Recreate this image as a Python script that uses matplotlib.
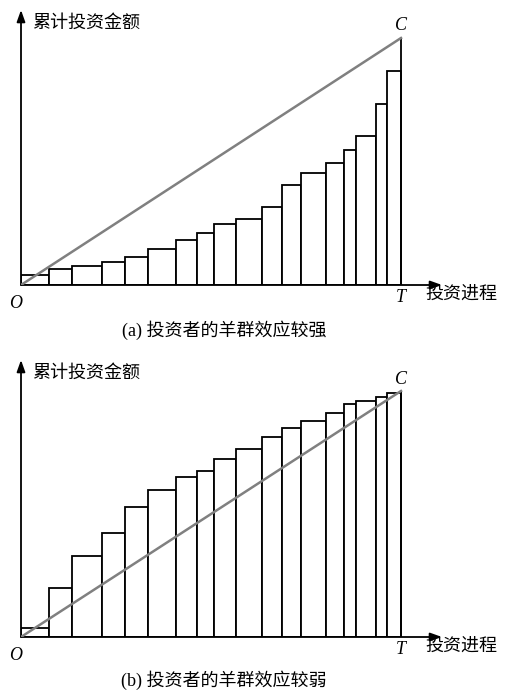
import numpy as np
import matplotlib
matplotlib.use('Agg')
import matplotlib.pyplot as plt

plt.rcParams['font.family'] = ['Liberation Serif', 'Noto Sans CJK SC', 'DejaVu Sans']

# bar boundaries along the investment process (0 .. T)
edges = [0, 28, 51, 81, 104, 127, 155, 176, 193, 215, 241, 261, 280, 305, 323, 335, 355, 366, 380]
T = 380

# cumulative investment heights
heights_a = [10, 16, 19, 23, 28, 36, 45, 52, 61, 66, 78, 100, 112, 122, 135, 149, 181, 214]
C_a = 247
heights_b = [9, 49, 81, 104, 130, 147, 160, 166, 178, 188, 200, 209, 216, 224, 233, 236, 240, 244]
C_b = 246

ylabel = '累计投资金额'
xlabel = '投资进程'
captions = ['(a) 投资者的羊群效应较强', '(b) 投资者的羊群效应较弱']

fig = plt.figure(figsize=(5.06, 6.94), dpi=100)

W, H = 506, 694
x0 = 21
xmax = 421


def panel(base, top, heights, C, caption, cap_y):
    ymax = base - top
    ax = fig.add_axes([x0 / W, (H - base) / H, xmax / W, ymax / H])
    ax.set_xlim(0, xmax)
    ax.set_ylim(0, ymax)
    ax.axis('off')

    lefts = edges[:-1]
    widths = np.diff(edges)
    ax.bar(lefts, heights, width=widths, align='edge', facecolor='white',
           edgecolor='black', linewidth=1.3, zorder=2)
    ax.plot([T, T], [0, C], color='black', lw=1.3, zorder=3)
    ax.plot([0, T], [0, C], color='#808080', lw=1.8, zorder=4)

    arrow = dict(arrowstyle='-|>,head_length=0.7,head_width=0.25', color='black', lw=1.3,
                 shrinkA=0, shrinkB=0)
    ax.annotate('', xy=(0, ymax), xytext=(0, 0), arrowprops=arrow, annotation_clip=False)
    ax.annotate('', xy=(xmax, 0), xytext=(0, 0), arrowprops=arrow, annotation_clip=False)

    ax.text(11, ymax - 13, ylabel, fontsize=13, ha='left', va='center', clip_on=False)
    ax.text(404, -9, xlabel, fontsize=13, ha='left', va='center', clip_on=False)
    ax.text(-5, -18, 'O', fontsize=13, style='italic', ha='center', va='center', clip_on=False)
    ax.text(T, -12, 'T', fontsize=13, style='italic', ha='center', va='center', clip_on=False)
    ax.text(T, C + 12, 'C', fontsize=13, style='italic', ha='center', va='center', clip_on=False)
    ax.text(224 - x0, base - cap_y, caption, fontsize=13, ha='center', va='center', clip_on=False)


panel(285, 10, heights_a, C_a, captions[0], 330)
panel(637, 360, heights_b, C_b, captions[1], 680)

fig.savefig('out.png', dpi=100)
